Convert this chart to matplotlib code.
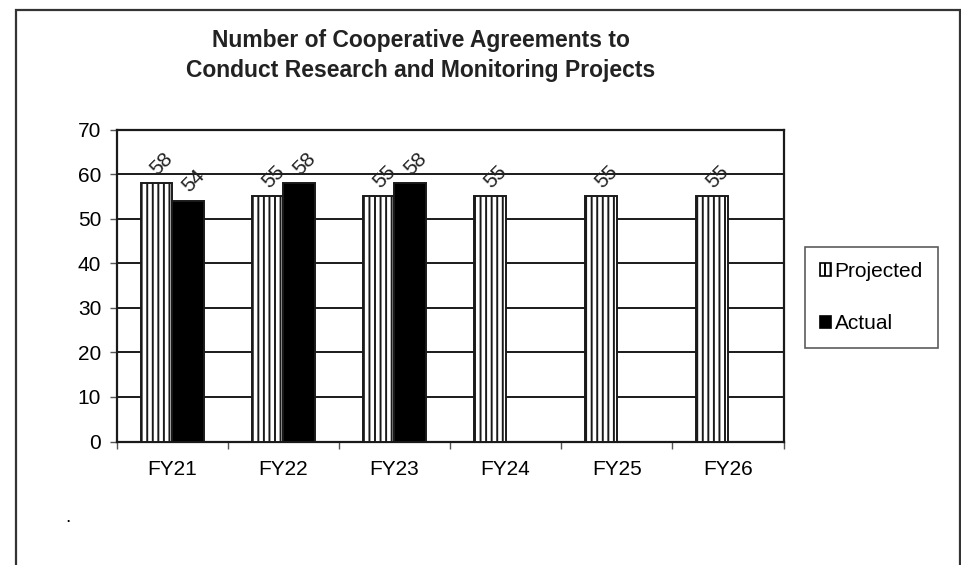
import matplotlib.pyplot as plt
import numpy as np
from matplotlib.patches import Rectangle, Patch

plt.rcParams["font.family"] = ["Liberation Sans", "DejaVu Sans"]
plt.rcParams["hatch.linewidth"] = 1.4

# Datos
years = ["FY21", "FY22", "FY23", "FY24", "FY25", "FY26"]
projected = [58, 55, 55, 55, 55, 55]
actual = [54, 58, 58]

fig = plt.figure(figsize=(9.61, 5.65), dpi=100)
W, H = 961, 565
ax = fig.add_axes([116.5 / W, 1 - 441.5 / H, (783.5 - 116.5) / W, (441.5 - 129.5) / H])

# Marco exterior del gráfico
fig.patches.append(Rectangle((15.5 / W, -0.1), (959.5 - 15.5) / W, 1.1 - 9.5 / H,
                             transform=fig.transFigure, fill=False,
                             edgecolor="#333333", linewidth=1.6, zorder=0))

x = np.arange(len(years))
w = 0.283
b1 = ax.bar(x - w / 2, projected, w, facecolor="white", edgecolor="#1a1a1a",
            hatch="|||", linewidth=1.4, label="Projected", zorder=3)
b2 = ax.bar(x[:len(actual)] + w / 2, actual, w, facecolor="black", edgecolor="#1a1a1a",
            linewidth=1.4, label="Actual", zorder=3)

# Etiquetas de valores rotadas
for rect, v in list(zip(b1, projected)) + list(zip(b2, actual)):
    ax.annotate(str(v), xy=(rect.get_x() + rect.get_width() / 2, v),
                xytext=(4, 14), textcoords="offset points",
                rotation=45, ha="center", va="center", fontsize=15, color="#222222",
                rotation_mode="anchor")

ax.set_xlim(-0.5, len(years) - 0.5)
ax.set_ylim(0, 70)
ax.set_yticks(range(0, 71, 10))
ax.yaxis.grid(True, color="#1a1a1a", linewidth=1.4, zorder=0)
ax.set_axisbelow(True)

ax.set_xticks(np.arange(-0.5, len(years), 1.0))
ax.set_xticklabels([])
ax.set_xticks(x, minor=True)
ax.set_xticklabels(years, minor=True, fontsize=15)
ax.tick_params(axis="x", which="minor", length=0, pad=13)
ax.tick_params(axis="x", which="major", length=5, width=1, color="#555555", direction="out")
ax.tick_params(axis="y", length=5, width=1, color="#555555", labelsize=15, pad=6)

for s in ax.spines.values():
    s.set_linewidth(1.6)
    s.set_color("#1a1a1a")

# Título
fig.text(421 / W, 1 - 40 / H, "Number of Cooperative Agreements to",
         ha="center", va="center", fontsize=16.5, fontweight="bold", color="#222222")
fig.text(421 / W, 1 - 70 / H, "Conduct Research and Monitoring Projects",
         ha="center", va="center", fontsize=16.5, fontweight="bold", color="#222222")

# Leyenda
handles = [Patch(facecolor="white", edgecolor="black", hatch="|||", linewidth=1.2, label="Projected"),
           Patch(facecolor="black", edgecolor="black", linewidth=1.2, label="Actual")]
leg = fig.legend(handles=handles, loc="upper left",
                 bbox_to_anchor=(805 / W, 1 - 247 / H), frameon=True, fancybox=False,
                 fontsize=15, handlelength=0.55, handleheight=0.55, handletextpad=0.15,
                 labelspacing=1.6, borderpad=0.72, borderaxespad=0)
leg.get_frame().set_edgecolor("#333333")
leg.get_frame().set_linewidth(1.2)

fig.text(68 / W, 1 - 518 / H, ".", fontsize=14, ha="center", va="center")

plt.savefig("out.png", dpi=100)
plt.close()
